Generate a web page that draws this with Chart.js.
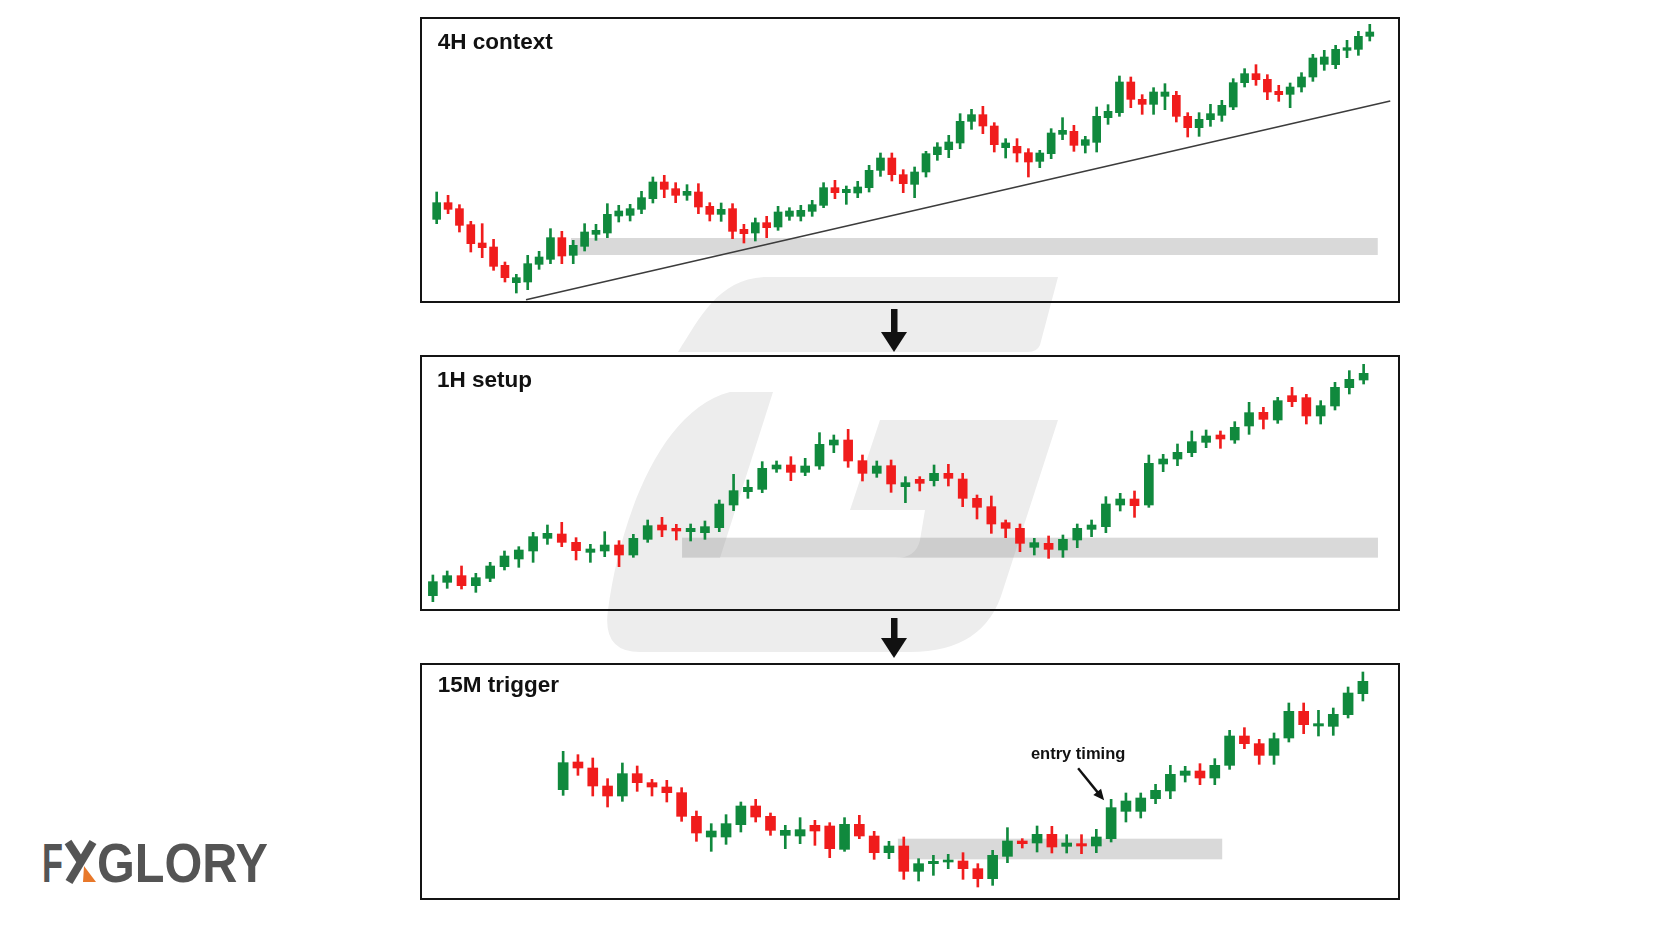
<!DOCTYPE html>
<html>
<head>
<meta charset="utf-8">
<script src="https://cdn.jsdelivr.net/npm/chart.js@4.4.1/dist/chart.umd.min.js"></script>
<style>
  html, body { margin: 0; padding: 0; background: #fff; }
  body { width: 1664px; height: 928px; position: relative; overflow: hidden; font-family: 'Liberation Sans', Arial, sans-serif; }
  #bg { position: absolute; left: 0; top: 0; }
  .panel { position: absolute; left: 420px; width: 980px; border: 2px solid #141414; box-sizing: border-box; }
  .panel canvas { display: block; }
</style>
</head>
<body>
<svg id="bg" width="1664" height="928">
  <!-- faint logo watermark -->
  <path fill="#ededed" d="M678 352 C700 318 718 279 765 277 L1058 277 L1040 345 Q1037 352 1028 352 Z"/>
  <path fill="#ededed" d="M730 392 L773 392 L720 558 L895 558 Q916 558 920 540 L925 510 L850 510 L880 420 L1058 420 L1003 590 Q985 652 910 652 L640 652 Q602 652 608 610 C620 520 660 410 730 392 Z"/>
  <!-- arrows between panels -->
  <rect x="891" y="309" width="6.5" height="25" fill="#111"/>
  <polygon points="881,332 907,332 894,352" fill="#111"/>
  <rect x="891" y="618" width="6.5" height="22" fill="#111"/>
  <polygon points="881,638 907,638 894,658" fill="#111"/>
  <!-- brand -->
  <g fill="#545454" font-family="Liberation Sans, Arial, sans-serif" font-weight="bold" font-size="56">
    <text x="42" y="882" textLength="21" lengthAdjust="spacingAndGlyphs">F</text>
    <text x="97" y="882" textLength="171" lengthAdjust="spacingAndGlyphs">GLORY</text>
  </g>
  <line x1="93" y1="842" x2="69" y2="882" stroke="#545454" stroke-width="8"/>
  <line x1="68" y1="842" x2="81" y2="862" stroke="#545454" stroke-width="8"/>
  <polygon points="84,866 96,882 83,882" fill="#e8782a"/>
</svg>

<div class="panel" style="top:17px;height:286px"><canvas id="c1" width="976" height="282"></canvas></div>
<div class="panel" style="top:355px;height:256px"><canvas id="c2" width="976" height="252"></canvas></div>
<div class="panel" style="top:663px;height:237px"><canvas id="c3" width="976" height="233"></canvas></div>

<script>
'use strict';
// 4H
let p1Open = [293,343,325,277,222,210,155,103,105,158,173,238,185,212,248,252,303,305,323,355,405,385,365,375,332,308,325,263,252,283,270,302,302,317,335,388,373,372,388,440,477,427,398,435,487,502,522,587,607,573,508,512,493,467,490,548,557,515,524,598,613,705,653,638,662,665,602,568,592,605,630,703,730,713,677,668,690,720,758,757,800,803,842];
let p1High = [375,365,337,287,280,233,165,128,185,197,265,257,230,280,278,340,335,338,377,420,425,403,397,400,343,342,340,278,297,302,332,328,335,350,403,410,393,407,455,492,492,442,450,497,523,545,610,623,632,583,535,535,505,500,565,598,575,542,630,637,723,720,667,688,700,677,613,613,638,650,715,745,757,727,695,702,733,788,800,815,830,857,878];
let p1Low = [280,310,255,195,178,140,105,72,82,143,160,160,160,198,230,238,285,288,310,342,358,343,350,310,288,287,235,222,228,238,260,290,288,302,328,355,338,358,375,422,408,373,358,420,470,478,505,563,550,495,477,465,420,448,475,532,497,492,495,578,602,628,608,608,622,585,540,542,572,587,622,690,695,652,647,628,675,707,740,745,778,785,828];
let p1Close = [343,323,275,220,208,152,118,118,160,180,238,183,215,255,260,308,318,325,358,405,383,365,377,330,308,323,257,250,283,268,315,318,320,337,388,373,383,390,440,477,427,400,435,490,510,525,587,607,573,517,522,492,465,492,552,560,515,532,602,617,705,653,638,675,675,602,568,593,610,635,703,730,712,675,667,690,720,777,780,803,808,842,855];
let p1TrendX = [7.85, 83.8];
let p1TrendY = [52, 648];
let p1ZoneX = [11.8, 82.7];
let p1ZoneY = [186, 237];

// 1H
let p2Open = [178,218,238,208,230,265,288,312,350,363,338,308,312,330,300,347,390,380,370,367,382,450,490,497,558,570,548,567,630,645,583,545,568,505,527,523,545,528,470,445,397,380,323,335,315,345,377,385,450,468,450,573,588,607,638,660,645,687,728,705,778,772,717,747,802,825];
let p2High = [240,252,267,245,278,312,325,368,390,398,352,332,370,343,362,405,413,392,393,402,465,542,525,580,582,595,590,667,660,677,600,582,585,535,535,570,572,545,480,477,405,393,350,357,360,393,405,475,485,492,600,602,633,672,675,672,700,758,743,773,803,782,763,818,853,872];
let p2Low = [160,200,198,188,220,255,263,278,332,325,285,278,295,265,293,338,355,345,342,347,370,433,470,487,548,523,538,557,607,563,522,533,488,457,492,507,507,445,408,365,352,310,300,290,293,322,355,367,432,413,443,550,568,595,622,620,635,662,678,695,745,693,693,735,783,813];
let p2Close = [220,238,208,232,267,297,315,355,365,338,313,318,330,300,350,388,375,372,380,385,453,493,503,560,570,548,567,632,645,582,545,567,513,517,515,545,530,470,443,393,380,335,337,317,347,380,390,453,468,448,575,588,608,640,657,648,683,727,707,763,760,717,748,803,827,845];
let p2ZoneX = [17.4, 66.0];
let p2ZoneY = [292, 352];

// 15M
let p3Open = [517,600,582,528,498,565,538,525,508,437,375,375,412,468,437,380,378,410,408,338,413,378,328,348,272,295,300,303,280,250,317,363,357,383,347,355,348,370,452,452,490,513,560,573,552,590,678,655,620,672,752,708,707,742,805];
let p3High = [632,622,612,550,597,588,548,545,523,453,415,442,480,488,447,410,433,425,418,433,440,392,362,375,310,320,323,328,295,335,403,370,408,407,382,382,398,488,507,507,533,590,587,595,610,695,703,668,687,777,777,755,762,825,870];
let p3Low = [500,560,498,465,482,512,498,480,422,362,332,353,390,420,380,340,355,350,313,332,370,308,310,248,243,260,280,248,225,230,298,342,330,327,327,325,328,360,420,432,475,490,540,532,532,578,640,593,593,660,685,678,680,732,783];
let p3Close = [598,582,528,498,565,538,525,508,437,387,393,415,468,435,395,395,397,393,340,413,378,328,348,272,295,302,305,280,250,320,363,355,383,345,357,348,375,463,483,492,515,563,573,552,590,678,655,620,670,752,712,715,743,807,842];
let p3ZoneX = [22.6, 44.5];
let p3ZoneY = [308, 370];
let p3NoteIndex = 37;
let p3NoteText = 'entry timing';

let green = '#10893d';
let red = '#f01c1c';
let font = '"Liberation Sans", Arial, sans-serif';

function decoPlugin(cfg) {
    return {
        id: 'deco',
        beforeDatasetsDraw(chart) {
            let ctx = chart.ctx;
            let xs = chart.scales.x;
            let ys = chart.scales.y;
            let x0 = xs.getPixelForValue(cfg.zoneX[0]);
            let x1 = xs.getPixelForValue(cfg.zoneX[1]);
            let y0 = ys.getPixelForValue(cfg.zoneY[1]);
            let y1 = ys.getPixelForValue(cfg.zoneY[0]);
            ctx.save();
            ctx.fillStyle = 'rgba(150,150,150,0.36)';
            ctx.fillRect(x0, y0, x1 - x0, y1 - y0);
            ctx.restore();
        },
        afterDatasetsDraw(chart) {
            let ctx = chart.ctx;
            ctx.save();
            ctx.fillStyle = '#111';
            ctx.font = 'bold 22.5px ' + font;
            ctx.textBaseline = 'alphabetic';
            ctx.fillText(cfg.title, cfg.titlePos[0], cfg.titlePos[1]);
            if (cfg.note) {
                let cx = chart.scales.x.getPixelForValue(cfg.note.index);
                let hy = chart.scales.y.getPixelForValue(cfg.note.high);
                ctx.font = 'bold 16.5px ' + font;
                ctx.textAlign = 'center';
                ctx.fillText(cfg.note.text, cx - 33, hy - 40);
                let sx = cx - 33, sy = hy - 31, ex = cx - 7, ey = hy + 1;
                let ang = Math.atan2(ey - sy, ex - sx);
                ctx.strokeStyle = '#111';
                ctx.lineWidth = 2.4;
                ctx.beginPath();
                ctx.moveTo(sx, sy);
                ctx.lineTo(ex - 8 * Math.cos(ang), ey - 8 * Math.sin(ang));
                ctx.stroke();
                ctx.beginPath();
                ctx.moveTo(ex, ey);
                ctx.lineTo(ex - 11 * Math.cos(ang) + 5 * Math.sin(ang), ey - 11 * Math.sin(ang) - 5 * Math.cos(ang));
                ctx.lineTo(ex - 11 * Math.cos(ang) - 5 * Math.sin(ang), ey - 11 * Math.sin(ang) + 5 * Math.cos(ang));
                ctx.closePath();
                ctx.fill();
            }
            ctx.restore();
        }
    };
}

function makePanel(id, open, high, low, close, cfg) {
    let colors = open.map((o, i) => close[i] >= o ? green : red);
    let datasets = [
        {
            type: 'bar',
            order: 0,
            data: open.map((o, i) => ({ x: i, y: [o, close[i]] })),
            backgroundColor: colors,
            barThickness: cfg.bodyWidth,
            minBarLength: 2,
            grouped: false,
            borderWidth: 0,
            borderSkipped: false
        },
        {
            type: 'bar',
            order: 1,
            data: low.map((l, i) => ({ x: i, y: [l, high[i]] })),
            backgroundColor: colors,
            barThickness: 2,
            grouped: false,
            borderWidth: 0,
            borderSkipped: false
        }
    ];
    if (cfg.trendX) {
        datasets.push({
            type: 'line',
            order: 2,
            data: cfg.trendX.map((x, i) => ({ x: x, y: cfg.trendY[i] })),
            borderColor: '#3c3c3c',
            borderWidth: 1.6,
            pointRadius: 0,
            fill: false
        });
    }
    new Chart(document.getElementById(id), {
        type: 'bar',
        data: { datasets: datasets },
        options: {
            responsive: false,
            animation: false,
            events: [],
            layout: { padding: 0 },
            plugins: { legend: { display: false }, tooltip: { enabled: false } },
            scales: {
                x: { type: 'linear', min: cfg.xRange[0], max: cfg.xRange[1], offset: false, display: false },
                y: { type: 'linear', min: cfg.yRange[0], max: cfg.yRange[1], display: false }
            }
        },
        plugins: [decoPlugin(cfg)]
    });
}

makePanel('c1', p1Open, p1High, p1Low, p1Close, {
    title: '4H context', titlePos: [15.7, 30],
    xRange: [-1.29, 84.48], yRange: [48, 894], bodyWidth: 8,
    zoneX: p1ZoneX, zoneY: p1ZoneY, trendX: p1TrendX, trendY: p1TrendY
});

makePanel('c2', p2Open, p2High, p2Low, p2Close, {
    title: '1H setup', titlePos: [15, 30.3],
    xRange: [-0.76, 67.40], yRange: [138, 894], bodyWidth: 9,
    zoneX: p2ZoneX, zoneY: p2ZoneY
});

makePanel('c3', p3Open, p3High, p3Low, p3Close, {
    title: '15M trigger', titlePos: [15.7, 27.3],
    xRange: [-9.53, 56.37], yRange: [192, 891], bodyWidth: 10,
    zoneX: p3ZoneX, zoneY: p3ZoneY,
    note: { index: p3NoteIndex, high: p3High[p3NoteIndex], text: p3NoteText }
});
</script>
</body>
</html>
